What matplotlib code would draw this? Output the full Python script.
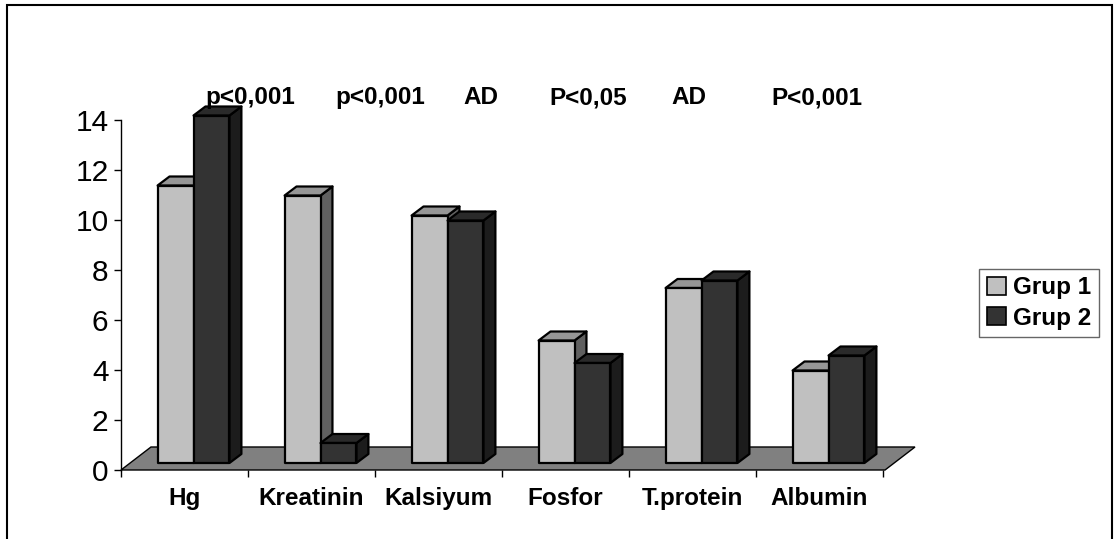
import matplotlib.pyplot as plt
from matplotlib.patches import Polygon, Rectangle, Patch

# data
categories = ['Hg', 'Kreatinin', 'Kalsiyum', 'Fosfor', 'T.protein', 'Albumin']
grup1 = [11.1, 10.7, 9.9, 4.9, 7.0, 3.7]
grup2 = [13.9, 0.8, 9.7, 4.0, 7.3, 4.3]
series_names = ['Grup 1', 'Grup 2']
p_labels = ['p<0,001', 'p<0,001', 'AD', 'P<0,05', 'AD', 'P<0,001']
p_label_x = [1.02, 2.04, 2.83, 3.68, 4.47, 5.48]

# colours: front, top, side
COLORS = [('#C0C0C0', '#969696', '#606060'),
          ('#333333', '#2A2A2A', '#1C1C1C')]
FLOOR_COLOR = '#808080'
FONT = 'Liberation Sans'

W, H = 1115, 539
fig = plt.figure(figsize=(W / 100, H / 100), dpi=100)
ax = fig.add_axes([121 / W, (H - 470) / H, 762 / W, 350 / H])
ax.set_xlim(0, 6)
ax.set_ylim(0, 14)

# 3D geometry (data units)
BAR_W = 0.283
FLOOR_D = (0.236, 0.92)
BAR_OFF = (0.071, 0.28)
BAR_D = (0.094, 0.36)

floor = Polygon([(0, 0), (6.016, 0), (6.016 + FLOOR_D[0], FLOOR_D[1]),
                 (FLOOR_D[0], FLOOR_D[1])], closed=True,
                facecolor=FLOOR_COLOR, edgecolor='black', lw=1.0,
                clip_on=False, zorder=1)
ax.add_patch(floor)


def draw_bar(x0, h, cols):
    front, top, side = cols
    x = x0 + BAR_OFF[0]
    y0 = BAR_OFF[1]
    y1 = y0 + h
    dx, dy = BAR_D
    kw = dict(closed=True, edgecolor='black', lw=1.6, joinstyle='round',
              clip_on=False, zorder=3)
    ax.add_patch(Polygon([(x + BAR_W, y0), (x + BAR_W + dx, y0 + dy),
                          (x + BAR_W + dx, y1 + dy), (x + BAR_W, y1)],
                         facecolor=side, **kw))
    ax.add_patch(Polygon([(x, y1), (x + BAR_W, y1), (x + BAR_W + dx, y1 + dy),
                          (x + dx, y1 + dy)], facecolor=top, **kw))
    ax.add_patch(Polygon([(x, y0), (x + BAR_W, y0), (x + BAR_W, y1), (x, y1)],
                         facecolor=front, **kw))


for i in range(len(categories)):
    for k, vals in enumerate([grup1, grup2]):
        draw_bar(i + 0.5 - BAR_W + k * BAR_W, vals[i], COLORS[k])

# axes styling
for s in ['top', 'right', 'bottom']:
    ax.spines[s].set_visible(False)
ax.spines['left'].set_linewidth(1.0)
ax.set_yticks(range(0, 15, 2))
ax.set_yticklabels([str(v) for v in range(0, 15, 2)], fontsize=21.5,
                   family=FONT)
ax.tick_params(axis='y', direction='out', length=5, width=1.0, pad=4)
ax.set_xticks(range(0, 7))
ax.set_xticklabels([])
ax.tick_params(axis='x', direction='out', length=5, width=1.0)
for i, c in enumerate(categories):
    ax.text(i + 0.5, -1.15, c, ha='center', va='center', fontsize=17.5,
            fontweight='bold', family=FONT)

for x, t in zip(p_label_x, p_labels):
    ax.text(x, 14.9, t, ha='center', va='center', fontsize=17.5,
            fontweight='bold', family=FONT, zorder=5)

# legend
handles = [Patch(facecolor=COLORS[k][0], edgecolor='black', lw=1.2)
           for k in range(2)]
leg = fig.legend(handles, series_names, loc='center',
                 bbox_to_anchor=(1039 / W, 1 - 303 / H),
                 prop=dict(family=FONT, size=17.5, weight='bold'),
                 frameon=True, fancybox=False, handlelength=0.8,
                 handleheight=0.8, handletextpad=0.3, borderpad=0.3,
                 labelspacing=0.3, borderaxespad=0)
leg.get_frame().set_edgecolor('#404040')
leg.get_frame().set_linewidth(1.0)

# outer frame
fig.patches.append(Rectangle((7 / W, -0.05), (1112 - 7) / W, 1.05 - 5 / H,
                             transform=fig.transFigure, fill=False,
                             edgecolor='black', lw=1.5))

fig.savefig('out.png', dpi=100)
